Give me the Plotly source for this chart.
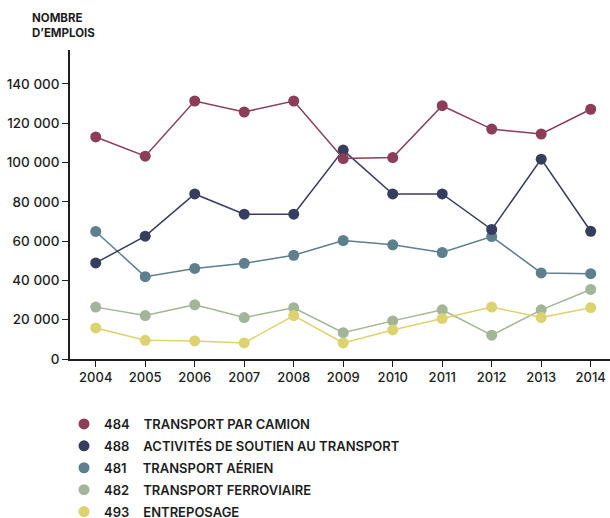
import plotly.graph_objects as go

years = [2004, 2005, 2006, 2007, 2008, 2009, 2010, 2011, 2012, 2013, 2014]

camion = [113000, 103200, 131300, 125700, 131300, 102000, 102500, 128900, 117000, 114500, 127100]
soutien = [48900, 62500, 84000, 73700, 73700, 106300, 84000, 84000, 65900, 101700, 65000]
aerien = [64900, 41900, 46100, 48700, 52800, 60300, 58100, 54200, 62300, 43800, 43400]
ferroviaire = [26400, 22100, 27600, 21100, 26100, 13400, 19400, 25000, 12100, 25000, 35400]
entreposage = [15800, 9500, 9200, 8200, 22100, 8200, 14800, 20600, 26400, 21100, 26100]

codes = ["484", "488", "481", "482", "493"]
labels = ["TRANSPORT PAR CAMION", "ACTIVITÉS DE SOUTIEN AU TRANSPORT",
          "TRANSPORT AÉRIEN", "TRANSPORT FERROVIAIRE", "ENTREPOSAGE"]
series = [camion, soutien, aerien, ferroviaire, entreposage]
colors = ["#8C3D57", "#363E5F", "#5E7F8D", "#A2B598", "#DCD26F"]

y_ticks = [0, 20000, 40000, 60000, 80000, 100000, 120000, 140000]
y_ticktext = ["0", "20 000", "40 000", "60 000", "80 000", "100 000", "120 000", "140 000"]

draw_order = [3, 4, 2, 1, 0]

fig = go.Figure()
for i in draw_order:
    fig.add_trace(go.Scatter(
        x=years, y=series[i], mode="lines+markers",
        showlegend=False,
        line=dict(color=colors[i], width=1.5),
        marker=dict(color=colors[i], size=11),
    ))

# legend entries (marker only, as in the reference)
for i in range(len(codes)):
    sep = "\u2003\u200a" + ("\u2009" if codes[i] == "481" else "")
    fig.add_trace(go.Scatter(
        x=[None], y=[None], mode="markers",
        name=codes[i] + sep + labels[i],
        legendgroup=codes[i],
        marker=dict(color=colors[i], size=11),
    ))

font_family = "Inter, Roboto, sans-serif"
fig.update_layout(
    width=610, height=518,
    margin=dict(l=70, r=0, t=50, b=159, autoexpand=False),
    plot_bgcolor="white", paper_bgcolor="rgba(0,0,0,0)",
    font=dict(family=font_family, color="#1e1e1e", size=13),
    showlegend=True,
    legend=dict(
        x=(64 - 70) / 540, xanchor="left", y=(359 - 409) / 309, yanchor="top",
        bgcolor="rgba(0,0,0,0)",
        font=dict(size=13, weight=600, color="#1e1e1e"),
        traceorder="grouped", tracegroupgap=2,
        itemwidth=30,
    ),
    xaxis=dict(
        range=[2003.48, 2014.39],
        tickvals=years, ticktext=[str(y) for y in years],
        tickangle=0,
        showgrid=False, zeroline=False,
        showline=True, linecolor="#1e1e1e", linewidth=1.5,
        ticks="outside", ticklen=6, tickwidth=1.2, tickcolor="#1e1e1e",
        tickfont=dict(size=13, weight=500),
    ),
    yaxis=dict(
        range=[0, 157250],
        tickvals=y_ticks, ticktext=y_ticktext,
        showgrid=False, zeroline=False,
        showline=True, linecolor="#1e1e1e", linewidth=1.5,
        ticks="outside", ticklen=6, tickwidth=1.2, tickcolor="#1e1e1e",
        tickfont=dict(size=13.5, weight=500),
    ),
    annotations=[dict(
        text="NOMBRE<br>D\u2019EMPLOIS",
        x=(30 - 70) / 540, y=(359 - 9) / 309,
        xref="paper", yref="paper",
        showarrow=False, align="left", xanchor="left", yanchor="top",
        font=dict(size=11.5, weight=700, color="#1e1e1e"),
    )],
)

fig.write_html(
    "out.html",
    config={"displayModeBar": False},
    post_script="document.body.style.margin='0px';document.body.style.overflow='hidden';",
)
